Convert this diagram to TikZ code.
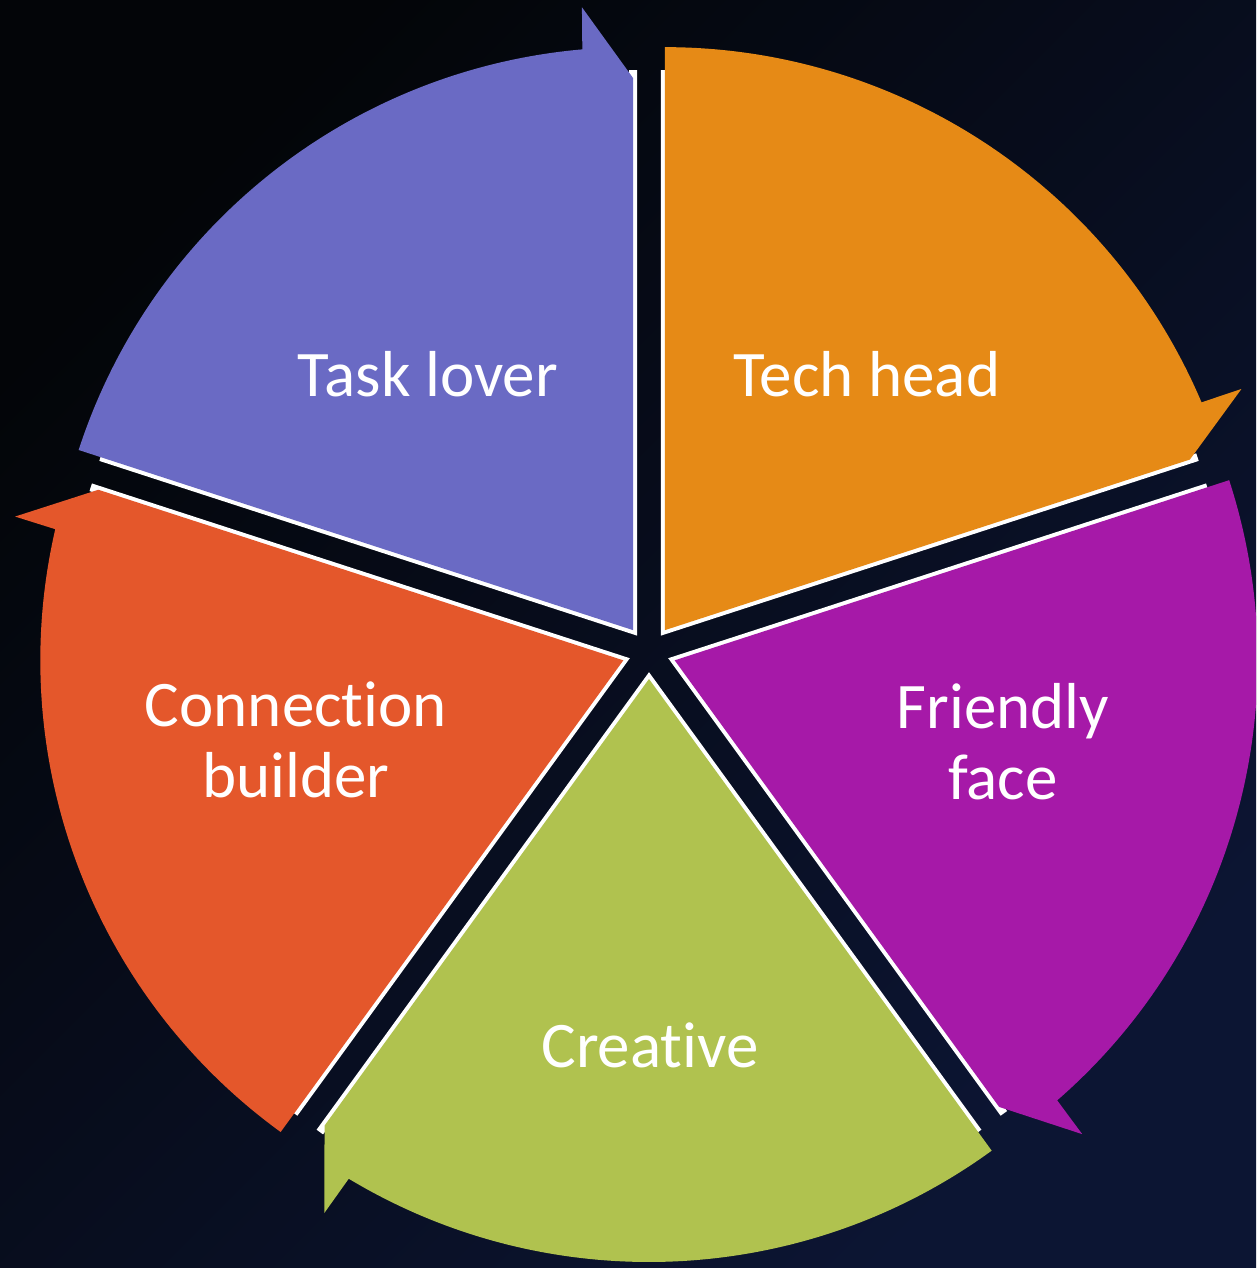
\documentclass[tikz,border=0pt]{standalone}
\usepackage{fontspec}
\setmainfont{Carlito}[Ligatures=NoCommon]
\usetikzlibrary{calc}
\definecolor{bgA}{HTML}{030508}
\definecolor{bgB}{HTML}{0C1533}
\definecolor{cPurple}{HTML}{6A6AC4}
\definecolor{cOrange}{HTML}{E68A16}
\definecolor{cMagenta}{HTML}{A619A8}
\definecolor{cGreen}{HTML}{B0C24F}
\definecolor{cRed}{HTML}{E4572B}
\newcommand{\cycseg}[2]{%
  \begin{scope}[shift={($(C)+({#1-36}:27)$)}]
    \draw[white, line width=8pt, line join=miter] ({#1}:560) -- (0,0) -- ({#1-72}:560);
    \fill[#2] (0,0) -- ({#1}:583) arc[start angle=#1, end angle=#1-67, radius=583]
      -- ({#1-72+4.7}:625) -- ({#1-72}:552) -- cycle;
  \end{scope}}
\begin{document}
\begin{tikzpicture}[x=1pt,y=1pt,
  lbl/.style={text=white, font=\fontsize{65}{71}\selectfont, align=center, anchor=base, inner sep=0pt}]
  \useasboundingbox (0,0) rectangle (1256,1268);
  \clip (0,0) rectangle (1256,1268);
  \shade[left color=bgA, right color=bgB, shading angle=45] (0,0) rectangle (1256,1268);
  \coordinate (C) at (649,616);
  \cycseg{90}{cOrange}
  \cycseg{162}{cPurple}
  \cycseg{234}{cRed}
  \cycseg{306}{cGreen}
  \cycseg{18}{cMagenta}
  \node[lbl] (task) at (428,871) {Task lover};
  \node[lbl] (tech) at (867,871) {Tech head};
  \node[lbl] (conn) at (296,470) {Connection\\builder};
  \node[lbl] (friend) at (1003,468) {Friendly\\face};
  \node[lbl] (creat) at (650,200) {Creative};
\end{tikzpicture}
\end{document}
